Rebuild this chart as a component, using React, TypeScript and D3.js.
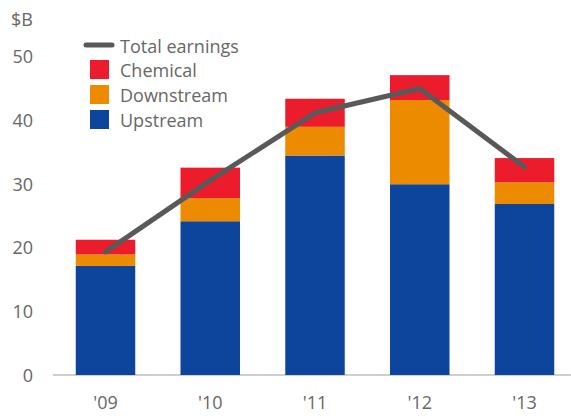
import React from "react";
import * as d3 from "d3";

const years = ["'09", "'10", "'11", "'12", "'13"];
const upstream = [17.1, 24.1, 34.4, 29.9, 26.8];
const downstream = [1.8, 3.6, 4.5, 13.2, 3.4];
const chemical = [2.3, 4.8, 4.4, 3.9, 3.8];
const totalEarnings = [19.3, 30.5, 41.1, 44.9, 32.6];
const yTicks = [0, 10, 20, 30, 40, 50];
const seriesNames = ["Upstream", "Downstream", "Chemical"];
const colors: Record<string, string> = {
  Upstream: "#0D459C",
  Downstream: "#EC8B00",
  Chemical: "#ED1C2C",
};

const W = 571;
const H = 416;
const FONT = "'Open Sans', Lato, sans-serif";
const TEXT = "#676767";
const FS = 18;

export default function App() {
  const y = d3.scaleLinear().domain([0, 50]).range([375, 56]);
  const x = d3.scalePoint<string>().domain(years).range([105.5, 524.5]);
  const bw = 59.5;

  const rows = years.map((yr, i) => ({
    year: yr,
    Upstream: upstream[i],
    Downstream: downstream[i],
    Chemical: chemical[i],
  }));
  const stack = d3.stack<any>().keys(seriesNames)(rows);

  const line = d3
    .line<number>()
    .x((_, i) => x(years[i]) as number)
    .y((d) => y(d));

  const legend = [
    { name: "Chemical", color: colors.Chemical },
    { name: "Downstream", color: colors.Downstream },
    { name: "Upstream", color: colors.Upstream },
  ];

  return (
    <svg
      width={W}
      height={H}
      style={{ position: "absolute", left: 0, top: 0, background: "#fff" }}
      fontFamily={FONT}
    >
      <rect width={W} height={H} fill="#fff" />
      <line x1={53} x2={W} y1={y(0)} y2={y(0)} stroke="#cfcfcf" strokeWidth={2} />
      {yTicks.map((t) => (
        <text
          key={t}
          x={33}
          y={y(t)}
          textAnchor="end"
          dominantBaseline="central"
          fontSize={FS}
          fill={TEXT}
        >
          {t}
        </text>
      ))}
      <text x={11} y={19} dominantBaseline="central" fontSize={FS} fill={TEXT}>
        $B
      </text>
      {stack.map((s) =>
        s.map((d, i) => (
          <rect
            key={s.key + i}
            x={(x(years[i]) as number) - bw / 2}
            width={bw}
            y={y(d[1])}
            height={y(d[0]) - y(d[1])}
            fill={colors[s.key]}
          />
        ))
      )}
      <path
        d={line(totalEarnings) || ""}
        fill="none"
        stroke="#595959"
        strokeWidth={5}
        strokeLinecap="round"
        strokeLinejoin="round"
      />
      {years.map((yr) => (
        <text
          key={yr}
          x={x(yr) as number}
          y={402}
          textAnchor="middle"
          dominantBaseline="central"
          fontSize={FS}
          fill={TEXT}
        >
          {yr}
        </text>
      ))}
      <line x1={86} x2={112} y1={45} y2={45} stroke="#595959" strokeWidth={5} strokeLinecap="round" />
      <text x={120} y={46} dominantBaseline="central" fontSize={FS} fill={TEXT}>
        Total earnings
      </text>
      {legend.map((l, i) => (
        <g key={l.name}>
          <rect x={90} y={60 + i * 25} width={19} height={19} fill={l.color} />
          <text x={120} y={70 + i * 25} dominantBaseline="central" fontSize={FS} fill={TEXT}>
            {l.name}
          </text>
        </g>
      ))}
    </svg>
  );
}
